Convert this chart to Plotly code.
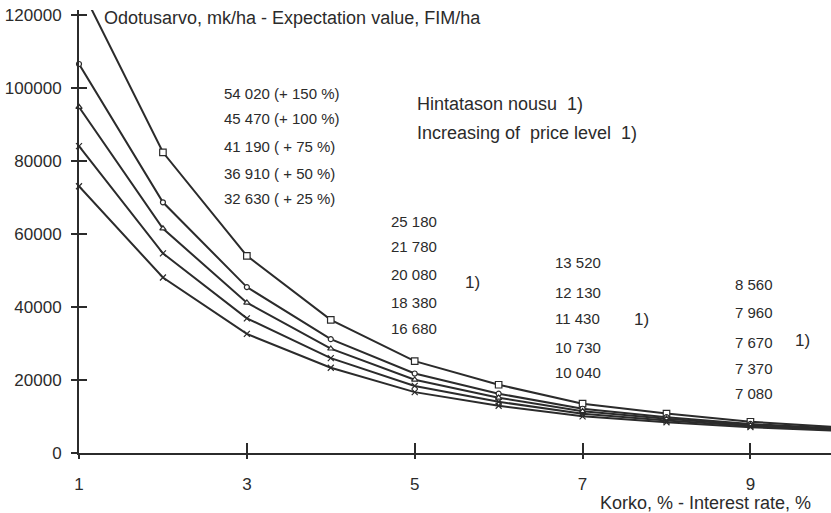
import plotly.graph_objects as go

# Interest rate, %
rates = [1, 2, 3, 4, 5, 6, 7, 8, 9, 10]

# Expectation value, FIM/ha, for each rise of the price level
ev_150 = [128500, 82400, 54020, 36500, 25180, 18700, 13520, 10800, 8560, 7100]
ev_100 = [106600, 68700, 45470, 31200, 21780, 16250, 12130, 9830, 7960, 6700]
ev_75 = [94800, 61500, 41190, 28600, 20080, 15150, 11430, 9360, 7670, 6500]
ev_50 = [84100, 54700, 36910, 26000, 18380, 14040, 10730, 8890, 7370, 6300]
ev_25 = [73100, 48100, 32630, 23350, 16680, 12940, 10040, 8430, 7080, 6100]

series = [ev_150, ev_100, ev_75, ev_50, ev_25]
increase_tags = ["(+ 150 %)", "(+ 100 %)", "( + 75 %)", "( + 50 %)", "( + 25 %)"]
labelled_rates = [3, 5, 7, 9]

x_ticks = [1, 3, 5, 7, 9]
y_ticks = [0, 20000, 40000, 60000, 80000, 100000, 120000]

INK = "#2b2b2b"
FONT = "Liberation Sans, Arial, Helvetica, sans-serif"

symbols = ["square", "circle", "triangle-up", "x-thin", "x-thin"]
msizes = [6.5, 5, 5.5, 6, 6]

X_RANGE = [1, 9.96]
Y_RANGE = [0, 121400]

fig = go.Figure()
for i, (vals, sym, ms) in enumerate(zip(series, symbols, msizes)):
    fig.add_trace(go.Scatter(
        x=rates, y=vals, mode="lines+markers",
        line=dict(color=INK, width=2),
        marker=dict(symbol=sym, size=ms, color="white",
                    line=dict(color=INK, width=1.2)),
        cliponaxis=(i == 0),
        showlegend=False, hoverinfo="x+y",
    ))

# carrier for the overlay axes that draw the inner half of each tick
fig.add_trace(go.Scatter(x=[], y=[], xaxis="x2", yaxis="y2", showlegend=False))


def fmt(v):
    return f"{v:,}".replace(",", " ")


ann = []
# value columns next to each labelled rate
col_x = {3: 2.704, 5: 4.695, 7: 6.650, 9: 8.795}
col_y = {
    3: [98630, 91780, 84110, 76710, 69860],
    5: [63560, 56710, 49040, 41370, 34250],
    7: [52330, 44110, 36990, 29040, 22190],
    9: [46300, 38630, 30410, 23290, 16440],
}
note_pos = {5: (5.577, 46850), 7: (7.591, 36710), 9: (9.510, 30960)}

for r in labelled_rates:
    idx = rates.index(r)
    for k, vals in enumerate(series):
        txt = fmt(vals[idx])
        if r == 3:
            txt = f"{txt} {increase_tags[k]}"
        ann.append(dict(x=col_x[r], y=col_y[r][k], xref="x", yref="y",
                        text=txt, showarrow=False, xanchor="left",
                        yanchor="middle", font=dict(size=15, color=INK, family=FONT)))
    if r in note_pos:
        nx, ny = note_pos[r]
        ann.append(dict(x=nx, y=ny, xref="x", yref="y", text="1)",
                        showarrow=False, xanchor="left", yanchor="middle",
                        font=dict(size=17, color=INK, family=FONT)))

ann += [
    dict(x=5.005, y=95620, xref="x", yref="y", text="Hintatason nousu  1)",
         showarrow=False, xanchor="left", yanchor="middle",
         font=dict(size=18, color=INK, family=FONT)),
    dict(x=5.005, y=87670, xref="x", yref="y", text="Increasing of  price level  1)",
         showarrow=False, xanchor="left", yanchor="middle",
         font=dict(size=18, color=INK, family=FONT)),
    dict(x=1.274, y=119180, xref="x", yref="y",
         text="Odotusarvo, mk/ha - Expectation value, FIM/ha",
         showarrow=False, xanchor="left", yanchor="middle",
         font=dict(size=18, color=INK, family=FONT)),
    dict(x=(598 - 79) / (831 - 79), y=-(503 - 453) / (453 - 10),
         xref="paper", yref="paper", text="Korko, % - Interest rate, %",
         showarrow=False, xanchor="left", yanchor="middle",
         font=dict(size=18, color=INK, family=FONT)),
]

axis_common = dict(showgrid=False, zeroline=False, tickcolor=INK, tickwidth=2)

fig.update_layout(
    width=831, height=513,
    margin=dict(l=79, r=0, t=10, b=60),
    paper_bgcolor="white", plot_bgcolor="white",
    font=dict(family=FONT, color=INK),
    xaxis=dict(range=X_RANGE, tickvals=x_ticks, ticks="outside", ticklen=4,
               showline=True, linecolor=INK, linewidth=2,
               tickfont=dict(size=17, color=INK), ticklabelstandoff=11,
               **axis_common),
    yaxis=dict(range=Y_RANGE, tickvals=y_ticks, ticks="outside", ticklen=6,
               tickformat="d",
               showline=True, linecolor=INK, linewidth=2,
               tickfont=dict(size=17, color=INK), ticklabelstandoff=6,
               **axis_common),
    xaxis2=dict(range=X_RANGE, tickvals=x_ticks, ticks="inside", ticklen=10,
                overlaying="x", anchor="y2", side="bottom",
                showticklabels=False, showline=False, **axis_common),
    yaxis2=dict(range=Y_RANGE, tickvals=y_ticks, ticks="inside", ticklen=8,
                overlaying="y", anchor="x2", side="left",
                showticklabels=False, showline=False, **axis_common),
    annotations=ann,
)

fig.write_html("out.html")
